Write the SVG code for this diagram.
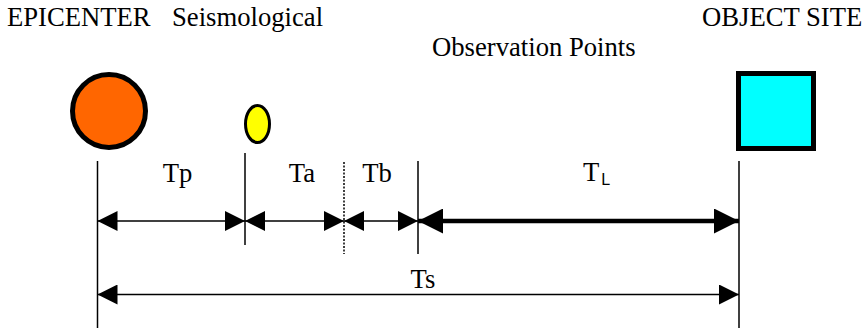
<svg xmlns="http://www.w3.org/2000/svg" width="867" height="330" viewBox="0 0 867 330">
  <style>
    text { font-family: 'Liberation Serif', 'DejaVu Serif', serif; font-size: 26.67px; fill: #000; }
    .sub { font-family: 'Liberation Sans', 'DejaVu Sans', sans-serif; font-size: 16px; }
    .guide { stroke: #000; stroke-width: 1.5; fill: none; }
    .dotted { stroke: #000; stroke-width: 1.5; stroke-dasharray: 2 1.5; fill: none; }
    .thin { stroke: #000; stroke-width: 1.5; fill: none; marker-start: url(#ah); marker-end: url(#ah); }
    .thick { stroke: #000; stroke-width: 4.5; fill: none; marker-start: url(#ahb); marker-end: url(#ahb); }
  </style>
  <defs>
    <marker id="ah" markerUnits="userSpaceOnUse" viewBox="0 0 20 20" refX="20" refY="10" markerWidth="20" markerHeight="20" orient="auto-start-reverse">
      <path d="M0,0 L20,10 L0,20 z" fill="#000"/>
    </marker>
    <marker id="ahb" markerUnits="userSpaceOnUse" viewBox="0 0 25 25" refX="25" refY="12.5" markerWidth="25" markerHeight="25" orient="auto-start-reverse">
      <path d="M0,0 L25,12.5 L0,25 z" fill="#000"/>
    </marker>
  </defs>
  <rect width="867" height="330" fill="#fff"/>

  <g id="epicenter">
    <text x="7" y="26" font-family="Liberation Serif, serif">EPICENTER</text>
    <circle cx="109" cy="111" r="36.5" fill="#FF6600" stroke="#000" stroke-width="5"/>
  </g>

  <g id="seismological">
    <text x="172" y="26" font-family="Liberation Serif, serif">Seismological</text>
    <ellipse cx="257.5" cy="124" rx="12" ry="18.5" fill="#FFFF00" stroke="#000" stroke-width="3"/>
  </g>

  <g id="observation-points">
    <text x="432" y="56" font-family="Liberation Serif, serif">Observation Points</text>
  </g>

  <g id="object-site">
    <text x="702" y="25.5" font-family="Liberation Serif, serif">OBJECT SITE</text>
    <rect x="738.5" y="73.5" width="75" height="75" fill="#00FFFF" stroke="#000" stroke-width="5"/>
  </g>

  <g id="connectors">
    <line class="guide" x1="97.5" y1="161" x2="97.5" y2="328"/>
    <line class="guide" x1="245" y1="153" x2="245" y2="245"/>
    <line class="dotted" x1="344" y1="162" x2="344" y2="254"/>
    <line class="guide" x1="418" y1="161" x2="418" y2="254"/>
    <line class="guide" x1="739" y1="161" x2="739" y2="328"/>

    <line class="thin" x1="97.5" y1="221" x2="245" y2="221"/>
    <line class="thin" x1="245" y1="221" x2="344" y2="221"/>
    <line class="thin" x1="344" y1="221" x2="418" y2="221"/>
    <line class="thick" x1="418" y1="221" x2="739" y2="221"/>
    <line class="thin" x1="97.5" y1="294.5" x2="739" y2="294.5"/>

    <text x="177.5" y="182" text-anchor="middle">Tp</text>
    <text x="302" y="182" text-anchor="middle">Ta</text>
    <text x="377" y="182" text-anchor="middle">Tb</text>
    <text x="583" y="181">T<tspan class="sub" dx="2" dy="4">L</tspan></text>
    <text x="423" y="287.5" text-anchor="middle">Ts</text>
  </g>
</svg>
